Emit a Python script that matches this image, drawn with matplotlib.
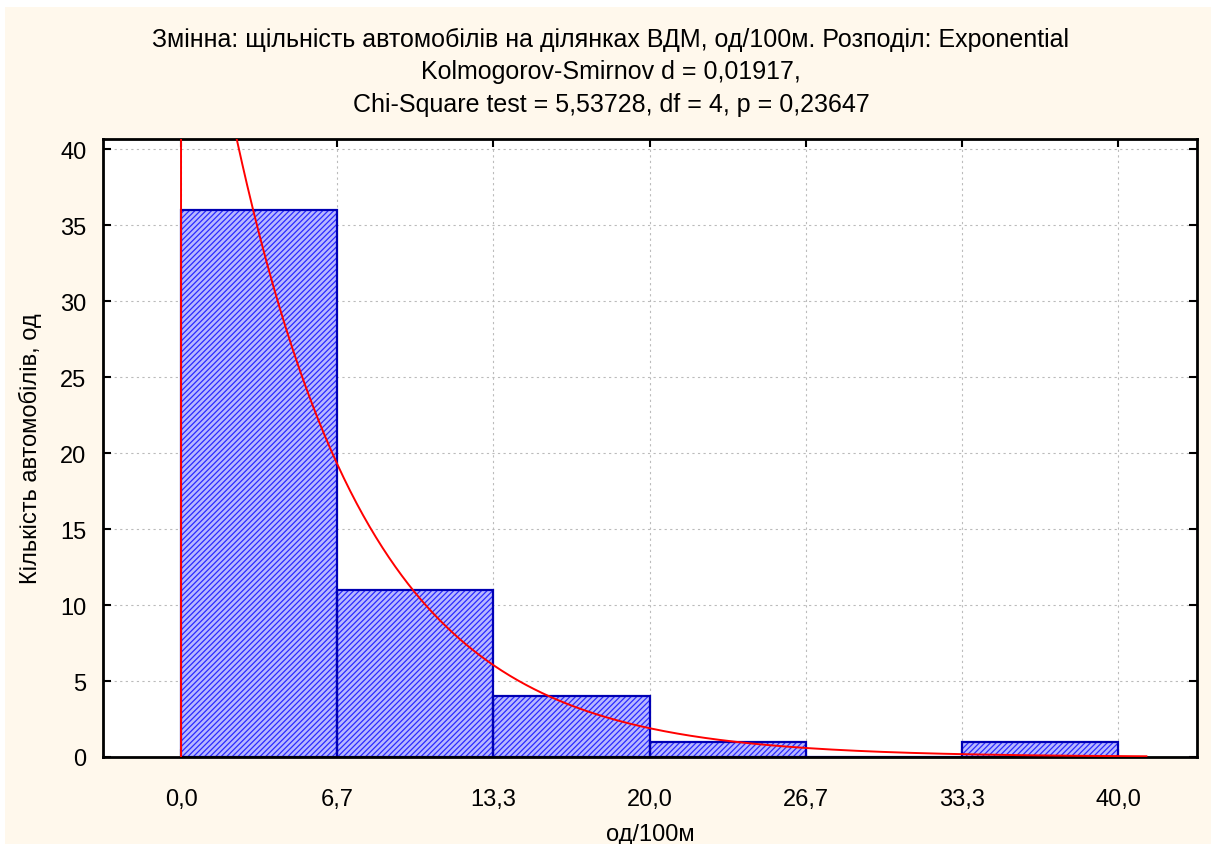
import numpy as np
import matplotlib
matplotlib.use("Agg")
import matplotlib.pyplot as plt
from matplotlib.patches import Rectangle

# ---- data ----
bin_edges = [0.0, 6.6667, 13.3333, 20.0, 26.6667, 33.3333, 40.0]
counts = [36, 11, 4, 1, 0, 1]
xtick_vals = [0.0, 6.6667, 13.3333, 20.0, 26.6667, 33.3333, 40.0]
xtick_labels = ["0,0", "6,7", "13,3", "20,0", "26,7", "33,3", "40,0"]
ytick_vals = [0, 5, 10, 15, 20, 25, 30, 35, 40]
fit_rate = 0.174          # fitted exponential lambda
curve_end = 41.2

title_lines = [
    "Змінна: щільність автомобілів на ділянках ВДМ, од/100м. Розподіл: Exponential",
    "Kolmogorov-Smirnov d = 0,01917,",
    "Chi-Square test = 5,53728, df = 4, p = 0,23647",
]
xlabel = "од/100м"
ylabel = "Кількість автомобілів, од"

plt.rcParams['font.family'] = ['Liberation Sans', 'DejaVu Sans']
plt.rcParams['hatch.linewidth'] = 0.9

W, H = 1211, 845
fig = plt.figure(figsize=(W / 100, H / 100), dpi=100, facecolor='white')
fig.patches.append(Rectangle((5 / W, 0), 1 - 5 / W, (H - 8) / H, transform=fig.transFigure,
                             facecolor='#FFF8EC', edgecolor='none', zorder=-10))

ax = fig.add_axes([103 / W, (H - 758) / H, (1197 - 103) / W, (758 - 140) / H])
ax.set_facecolor('white')

widths = np.diff(bin_edges)
# hatched fill
ax.bar(bin_edges[:-1], counts, width=widths, align='edge',
       facecolor='#B8B8FF', edgecolor='#2a2aFF', hatch='/' * 6, linewidth=0, zorder=2)
# outline
ax.bar(bin_edges[:-1], counts, width=widths, align='edge',
       fill=False, edgecolor='#0000B4', linewidth=1.6, zorder=2.5)

n_obs = sum(counts)
bw = widths[0]
xc = np.linspace(0, curve_end, 600)
yc = n_obs * bw * fit_rate * np.exp(-fit_rate * xc)
xc = np.concatenate([[0.0], xc])
yc = np.concatenate([[0.0], yc])
ax.plot(xc, yc, color='#FF0000', linewidth=1.4, zorder=3)

ax.set_xlim(-3.33, 43.36)
ax.set_ylim(0, 40.66)
ax.set_xticks(xtick_vals)
ax.set_xticklabels(xtick_labels)
ax.set_yticks(ytick_vals)
ax.tick_params(direction='in', length=6, width=1.5, top=True, right=True,
               labelsize=17, pad=12, color='black')
ax.tick_params(axis='x', pad=22)
ax.grid(True, color='#BBBBBB', linestyle=(0, (2, 3)), linewidth=0.8, zorder=0)
ax.set_axisbelow(True)
for s in ax.spines.values():
    s.set_linewidth(2)
    s.set_color('black')

ax.set_xlabel(xlabel, fontsize=17, labelpad=10)
ax.set_ylabel(ylabel, fontsize=17, labelpad=13)

for i, t in enumerate(title_lines):
    fig.text(611 / W, 1 - (40 + i * 32.5) / H, t, ha='center', va='center', fontsize=18)

fig.savefig('out.png', dpi=100, facecolor=fig.get_facecolor())
